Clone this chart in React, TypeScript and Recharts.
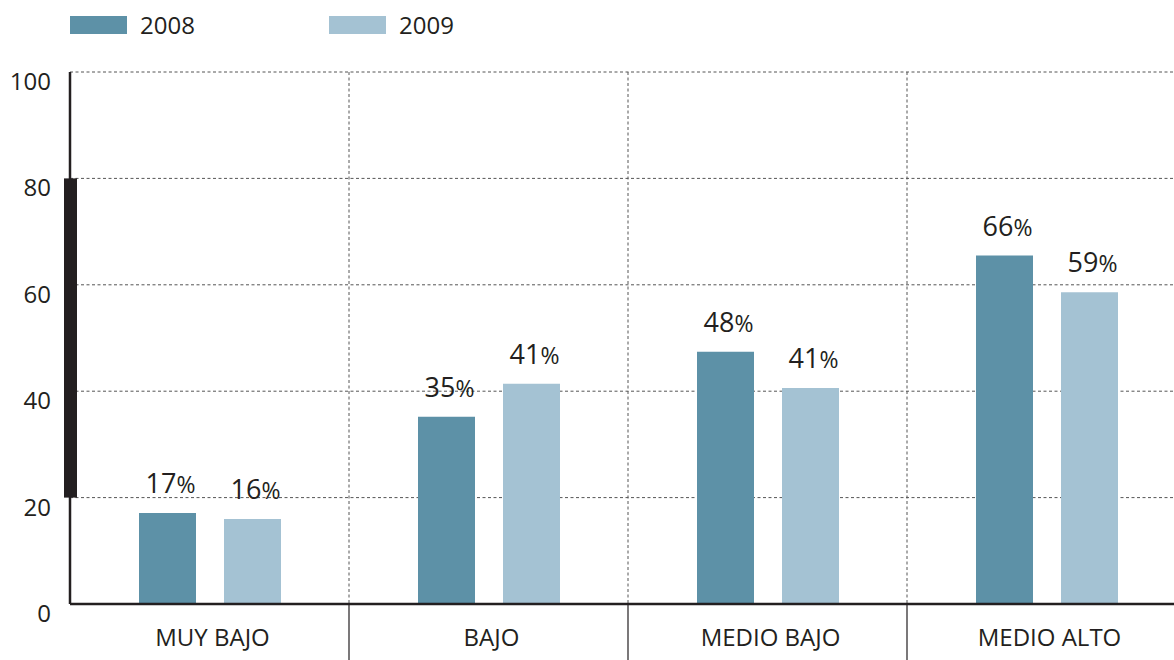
import React from "react";
import {
  BarChart,
  Bar,
  XAxis,
  YAxis,
  CartesianGrid,
  Legend,
  LabelList,
  ReferenceArea,
} from "recharts";

const categories = ["MUY BAJO", "BAJO", "MEDIO BAJO", "MEDIO ALTO"];
const values2008 = [17.1, 35.2, 47.4, 65.5];
const values2009 = [16.0, 41.4, 40.6, 58.6];
const labels2008 = [17, 35, 48, 66];
const labels2009 = [16, 41, 41, 59];
const yTicks = [0, 20, 40, 60, 80, 100];
const seriesNames = ["2008", "2009"];
const highlightBand = [20, 80];

const COLORS = ["#5d91a7", "#a4c2d3"];
const INK = "#231f20";
const FONT = "'Open Sans', sans-serif";

const data = categories.map((name, i) => ({
  name,
  v2008: values2008[i],
  v2009: values2009[i],
  l2008: labels2008[i],
  l2009: labels2009[i],
}));

function YTick({ x, y, payload }: any) {
  return (
    <text x={x} y={y + 18} textAnchor="end" fontFamily={FONT} fontSize={24} fill={INK}>
      {payload.value}
    </text>
  );
}

function XTick({ x, y, payload, index }: any) {
  const half = payload.offset ?? 0;
  return (
    <g>
      {index > 0 && (
        <line x1={x - half} x2={x - half} y1={y} y2={y + 56} stroke={INK} strokeWidth={1.2} />
      )}
      <text x={x + 3} y={y + 42} textAnchor="middle" fontFamily={FONT} fontSize={24} fill={INK}>
        {payload.value}
      </text>
    </g>
  );
}

function PctLabel({ x, y, width, value }: any) {
  return (
    <text x={x + width / 2 + 3} y={y - 20} textAnchor="middle" fontFamily={FONT} fill={INK}>
      <tspan fontSize={27}>{value}</tspan>
      <tspan fontSize={23}>%</tspan>
    </text>
  );
}

function TopLegend() {
  return (
    <svg width={520} height={50}>
      {seriesNames.map((s, i) => (
        <g key={s} transform={`translate(${70 + i * 259}, 0)`}>
          <rect x={0} y={16} width={57} height={18} fill={COLORS[i]} />
          <text x={70} y={34} fontFamily={FONT} fontSize={24} fill={INK}>
            {s}
          </text>
        </g>
      ))}
    </svg>
  );
}

export default function App() {
  return (
    <div
      style={{
        position: "absolute",
        left: 0,
        top: 0,
        width: 1174,
        height: 660,
        overflow: "hidden",
        background: "#fff",
      }}
    >
      <BarChart
        width={1186}
        height={660}
        data={data}
        margin={{ top: 72, right: 0, left: 0, bottom: 0 }}
        barSize={57}
        barGap={28}
      >
        <CartesianGrid
          stroke="#555"
          strokeDasharray="3 2.5"
          verticalCoordinatesGenerator={({ offset }: any) =>
            categories
              .slice(1)
              .map((_, i) => offset.left + ((i + 1) * offset.width) / categories.length)
          }
        />
        <XAxis
          dataKey="name"
          height={56}
          tickLine={false}
          tickSize={0}
          tickMargin={0}
          axisLine={{ stroke: INK, strokeWidth: 2.5 }}
          tick={<XTick />}
          interval={0}
        />
        <YAxis
          width={70}
          domain={[0, 100]}
          ticks={yTicks}
          tickLine={false}
          tickSize={0}
          tickMargin={19}
          axisLine={{ stroke: INK, strokeWidth: 2.5 }}
          tick={<YTick />}
        />
        <Legend
          verticalAlign="middle"
          layout="horizontal"
          wrapperStyle={{ top: 0, left: 0 }}
          content={() => <TopLegend />}
        />
        <Bar dataKey="v2008" name="2008" fill={COLORS[0]} isAnimationActive={false}>
          <LabelList dataKey="l2008" content={<PctLabel />} />
        </Bar>
        <Bar dataKey="v2009" name="2009" fill={COLORS[1]} isAnimationActive={false}>
          <LabelList dataKey="l2009" content={<PctLabel />} />
        </Bar>
        <ReferenceArea
          y1={highlightBand[0]}
          y2={highlightBand[1]}
          ifOverflow="visible"
          shape={(p: any) => (
            <rect x={p.x - 6} y={p.y} width={13} height={p.height} fill={INK} />
          )}
        />
      </BarChart>
    </div>
  );
}
